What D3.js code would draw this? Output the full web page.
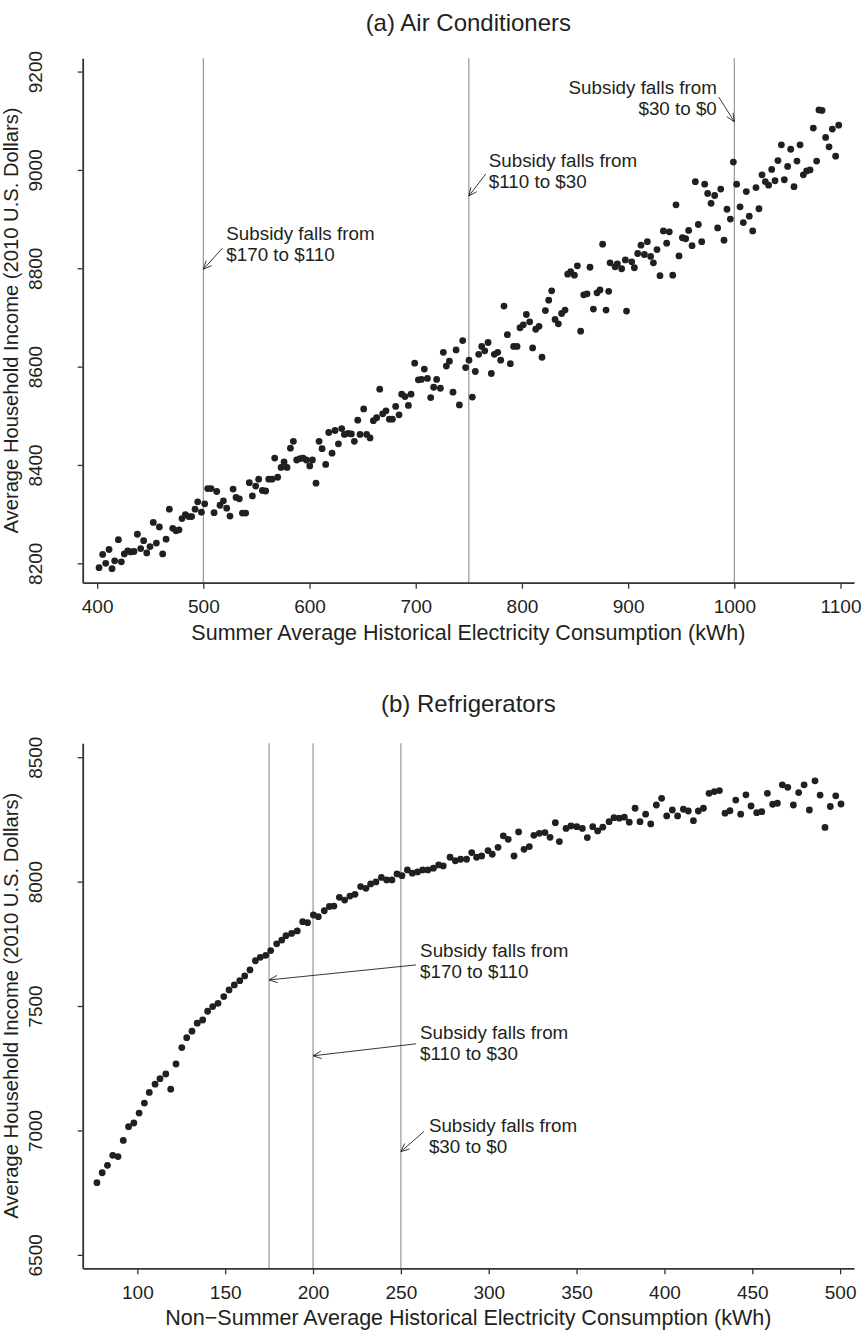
<!DOCTYPE html>
<html>
<head>
<meta charset="utf-8">
<script src="https://cdn.jsdelivr.net/npm/d3@7/dist/d3.min.js"></script>
<style>
  body { margin: 0; background: #fff; }
  svg text { font-family: "Liberation Sans", Arial, Helvetica, sans-serif; fill: #231f20; }
</style>
</head>
<body>
<div id="chart"></div>
<script>

// (a) air conditioners: summer kWh bins and mean income
const acKwh = [401.8,405.2,408.1,411.2,414.0,416.5,420.0,422.8,425.6,428.8,431.6,434.7,437.9,441.0,443.8,446.7,449.8,452.9,455.8,458.6,
  461.7,464.9,468.0,471.2,474.3,477.1,479.9,483.1,486.2,489.0,492.2,494.7,498.2,501.3,504.1,507.2,510.1,512.6,515.7,518.9,
  522.0,525.1,528.0,530.8,533.9,536.8,539.9,543.3,546.2,549.3,552.1,555.6,558.7,561.6,564.7,567.2,570.0,573.2,576.0,578.8,
  582.0,584.8,587.9,591.1,593.9,597.0,600.2,602.7,606.1,609.0,611.8,615.2,618.1,621.2,624.0,627.2,630.3,632.8,636.3,639.4,
  642.2,645.4,647.6,651.0,653.8,657.0,660.1,663.2,666.1,668.9,672.0,675.2,678.0,681.1,684.3,686.8,689.9,693.1,695.6,699.0,
  702.5,705.3,708.1,711.0,714.1,716.9,719.7,723.2,726.0,728.8,731.7,735.1,738.0,741.1,744.2,747.0,750.2,753.3,756.1,759.3,
  762.1,765.0,768.1,771.2,774.0,777.2,780.0,783.1,786.3,789.1,792.2,795.4,798.2,801.3,804.2,807.3,810.1,813.0,816.1,818.9,
  822.1,825.2,828.0,831.2,834.3,837.4,840.6,843.1,845.9,849.4,852.2,855.3,858.2,861.3,864.1,867.3,870.7,873.5,876.0,879.2,
  881.7,883.0,887.7,889.9,893.9,897.4,898.5,903.4,905.9,909.0,912.1,915.3,918.1,921.2,923.8,927.2,930.0,933.2,936.3,938.8,
  942.0,945.1,947.9,951.1,954.2,957.0,960.2,963.3,966.1,969.3,972.1,974.9,978.1,981.5,984.3,987.2,990.3,993.1,996.3,999.1,
  1002.2,1005.4,1008.5,1011.3,1014.1,1017.3,1020.4,1023.2,1026.1,1029.2,1032.3,1035.2,1038.3,1041.1,1044.3,1047.1,1050.2,1053.1,1056.2,1059.0,
  1061.9,1065.0,1068.1,1071.3,1074.4,1077.5,1079.7,1082.6,1086.0,1089.2,1092.3,1095.4,1098.3];
const acIncome = [8191,8218,8200,8228,8189,8205,8248,8203,8219,8225,8223,8224,8259,8230,8246,8221,8234,8283,8241,8274,
  8219,8249,8310,8271,8266,8268,8291,8299,8295,8295,8310,8325,8304,8321,8352,8352,8303,8346,8318,8327,
  8312,8296,8351,8334,8331,8302,8302,8364,8337,8357,8371,8348,8347,8371,8371,8414,8375,8395,8406,8395,
  8434,8448,8410,8413,8414,8410,8398,8410,8363,8448,8433,8401,8466,8424,8470,8443,8474,8462,8464,8463,
  8448,8491,8462,8514,8462,8455,8490,8496,8554,8504,8510,8493,8493,8519,8502,8544,8539,8521,8544,8607,
  8573,8574,8595,8576,8537,8558,8574,8556,8629,8601,8611,8548,8634,8522,8653,8598,8613,8538,8590,8625,
  8641,8632,8649,8586,8625,8629,8613,8723,8665,8606,8641,8641,8679,8685,8706,8691,8638,8676,8682,8619,
  8714,8735,8754,8696,8687,8708,8715,8788,8793,8786,8805,8672,8746,8748,8802,8717,8750,8756,8849,8715,
  8753,8811,8803,8809,8799,8817,8713,8813,8801,8830,8847,8828,8854,8824,8811,8838,8785,8876,8851,8874,
  8786,8929,8825,8862,8860,8877,8846,8976,8889,8854,8971,8952,8932,8948,8882,8961,8857,8920,8900,9016,
  8971,8925,8893,8956,8906,8876,8964,8921,8990,8976,8969,9001,8978,9019,9051,8980,9007,9042,8966,9018,
  9051,8990,8998,9000,9085,9018,9122,9121,9066,9047,9083,9028,9091];

// (b) refrigerators: non-summer kWh bins and mean income
const refKwh = [77,80,83,86,89,92,95,98,101,104,106.8,110.1,112.9,116.2,119.0,122.0,125.3,128.1,131.1,134.1,
  137.2,140.0,142.9,145.9,149.2,152.2,155.2,158.3,161.1,164.1,167.2,170.0,173.1,175.9,179.3,182.2,184.6,187.8,191.0,194.1,
  196.9,200.2,203.0,206.4,209.3,211.9,215.0,218.0,221.0,223.9,227.1,230.1,232.8,235.8,238.9,241.9,244.9,247.8,250.6,253.7,
  256.5,259.5,262.4,265.4,268.5,271.5,274.1,278.0,281.0,284.0,287.4,290.3,293.1,296.0,299.6,302.0,305.3,308.3,311.1,314.4,
  317.0,320.1,323.1,325.7,328.8,332.0,334.9,337.9,340.2,344.0,346.8,350.1,353.3,356.1,359.2,362.0,364.9,368.5,371.3,374.3,
  377.2,380.0,383.3,386.1,389.3,392.2,395.4,398.4,401.3,404.5,407.5,410.8,413.6,416.5,419.3,422.2,425.4,428.4,431.3,434.5,
  437.3,440.6,443.4,446.4,449.3,452.5,455.4,458.6,461.6,464.3,467.1,470.2,473.4,476.4,479.5,482.5,485.7,488.6,491.4,494.4,
  497.5,500.5];
const refIncome = [6790,6830,6860,6900,6895,6960,7015,7030,7070,7110,7153,7186,7208,7227,7166,7267,7333,7373,7399,7431,
  7444,7479,7498,7511,7538,7565,7585,7602,7621,7645,7682,7696,7704,7723,7750,7765,7783,7792,7802,7839,
  7835,7866,7859,7883,7900,7902,7937,7926,7942,7949,7980,7973,7991,7999,8017,8007,8007,8031,8024,8047,
  8034,8039,8047,8047,8054,8067,8063,8098,8084,8090,8090,8117,8098,8103,8125,8110,8138,8184,8170,8103,
  8200,8130,8141,8186,8194,8197,8178,8237,8161,8214,8224,8221,8214,8177,8221,8204,8219,8241,8257,8255,
  8259,8239,8295,8241,8271,8232,8308,8335,8264,8288,8264,8291,8284,8245,8284,8295,8355,8362,8366,8275,
  8285,8328,8271,8349,8304,8277,8281,8355,8311,8315,8389,8379,8308,8358,8389,8288,8405,8348,8218,8302,
  8345,8312];

const acTicksX = [400, 500, 600, 700, 800, 900, 1000, 1100];
const acTicksY = [8200, 8400, 8600, 8800, 9000, 9200];
const refTicksX = [100, 150, 200, 250, 300, 350, 400, 450, 500];
const refTicksY = [6500, 7000, 7500, 8000, 8500];

const acCutoffs = [500, 750, 1000];
const refCutoffs = [175, 200, 250];
const subsidySteps = ["$170 to $110", "$110 to $30", "$30 to $0"];
const acArrowIncome = [8798, 8947, 9098];
const refArrowIncome = [7605, 7300, 6915];

const width = 861, height = 1337;
const ink = "#231f20";

const svg = d3.select("#chart").append("svg")
    .attr("width", width)
    .attr("height", height);

svg.append("rect").attr("width", width).attr("height", height).attr("fill", "#fff");

function ScatterPanel(cfg) {

    const box = cfg.box;
    const g = svg.append("g");

    const xScale = d3.scaleLinear().domain(cfg.xDomain).range([box.left, box.right]);
    const yScale = d3.scaleLinear().domain(cfg.yDomain).range([box.bottom, box.top]);

    // vertical cutoff lines
    g.append("g").selectAll("line")
        .data(cfg.cutoffs)
        .join("line")
        .attr("x1", d => xScale(d)).attr("x2", d => xScale(d))
        .attr("y1", box.top).attr("y2", box.bottom)
        .attr("stroke", "#8d8d8d")
        .attr("stroke-width", 1.1);

    const xAxis = d3.axisBottom(xScale)
        .tickValues(cfg.xTicks)
        .tickFormat(d3.format("d"))
        .tickSize(6)
        .tickSizeOuter(0)
        .tickPadding(11);

    const gx = g.append("g")
        .attr("transform", `translate(0, ${box.bottom})`)
        .call(xAxis);
    gx.selectAll("text").attr("font-size", 19).attr("fill", ink)
        .style("font-family", "'Liberation Sans', Arial, sans-serif");

    const yAxis = d3.axisLeft(yScale)
        .tickValues(cfg.yTicks)
        .tickSize(5)
        .tickSizeOuter(0)
        .tickFormat("");

    const gy = g.append("g")
        .attr("transform", `translate(${box.left}, 0)`)
        .call(yAxis);

    gy.selectAll(".tick").append("text")
        .attr("transform", "translate(-41, 0) rotate(-90)")
        .attr("text-anchor", "middle")
        .attr("font-size", 19)
        .attr("fill", ink)
        .text(d => d);

    g.selectAll(".domain").attr("stroke", "#333").attr("stroke-width", 1.8);
    g.selectAll(".tick line").attr("stroke", "#333").attr("stroke-width", 1.3);

    // points
    g.append("g").selectAll("circle")
        .data(d3.zip(cfg.xs, cfg.ys))
        .join("circle")
        .attr("cx", d => xScale(d[0]))
        .attr("cy", d => yScale(d[1]))
        .attr("r", 3.4)
        .attr("fill", ink);

    // titles
    const midX = (box.left + box.right) / 2;
    g.append("text")
        .attr("x", midX).attr("y", box.top - cfg.titleGap)
        .attr("text-anchor", "middle")
        .attr("font-size", 24)
        .text(cfg.title);

    g.append("text")
        .attr("x", midX).attr("y", box.bottom + 57)
        .attr("text-anchor", "middle")
        .attr("font-size", 21.5)
        .text(cfg.xLabel);

    g.append("text")
        .attr("transform", `translate(18, ${(box.top + box.bottom) / 2}) rotate(-90)`)
        .attr("text-anchor", "middle")
        .attr("font-size", 20.2)
        .text("Average Household Income (2010 U.S. Dollars)");

    // annotations with open arrowheads
    const lineGap = 21;
    cfg.notes.forEach((n, i) => {
        const tx = xScale(cfg.cutoffs[i]), ty = yScale(cfg.arrowY[i]);
        const sx = tx + n.tail[0], sy = ty + n.tail[1];
        const ang = Math.atan2(sy - ty, sx - tx), hl = 9, spread = 0.42;
        g.append("path")
            .attr("d", `M${sx},${sy}L${tx},${ty}` +
                `M${tx + hl * Math.cos(ang + spread)},${ty + hl * Math.sin(ang + spread)}L${tx},${ty}` +
                `L${tx + hl * Math.cos(ang - spread)},${ty + hl * Math.sin(ang - spread)}`)
            .attr("fill", "none")
            .attr("stroke", ink)
            .attr("stroke-width", 0.9);
        [["Subsidy falls from", 0], [subsidySteps[i], lineGap]].forEach(([s, off]) => {
            g.append("text")
                .attr("x", tx + n.text[0])
                .attr("y", ty + n.text[1] + off)
                .attr("text-anchor", n.anchor)
                .attr("font-size", 18.8)
                .text(s);
        });
    });
}

ScatterPanel({
    box: {left: 82.7, right: 854, top: 58.3, bottom: 582.7},
    xDomain: [386.4, 1112.7],
    yDomain: [8160.5, 9227],
    xTicks: acTicksX, yTicks: acTicksY,
    xs: acKwh, ys: acIncome,
    cutoffs: acCutoffs, arrowY: acArrowIncome,
    title: "(a) Air Conditioners", titleGap: 27,
    xLabel: "Summer Average Historical Electricity Consumption (kWh)",
    notes: [
        {tail: [19, -21], text: [23, -29], anchor: "start"},
        {tail: [17, -22], text: [20, -29], anchor: "start"},
        {tail: [-15.5, -24.5], text: [-17.5, -27.5], anchor: "end"}
    ]
});

ScatterPanel({
    box: {left: 82.7, right: 854, top: 743.3, bottom: 1268.3},
    xDomain: [68.9, 507.9],
    yDomain: [6446, 8556],
    xTicks: refTicksX, yTicks: refTicksY,
    xs: refKwh, ys: refIncome,
    cutoffs: refCutoffs, arrowY: refArrowIncome,
    title: "(b) Refrigerators", titleGap: 31,
    xLabel: "Non\u2212Summer Average Historical Electricity Consumption (kWh)",
    notes: [
        {tail: [147, -15], text: [151, -23], anchor: "start"},
        {tail: [103, -12], text: [107, -17], anchor: "start"},
        {tail: [23, -20], text: [28, -20], anchor: "start"}
    ]
});

</script>
</body>
</html>
